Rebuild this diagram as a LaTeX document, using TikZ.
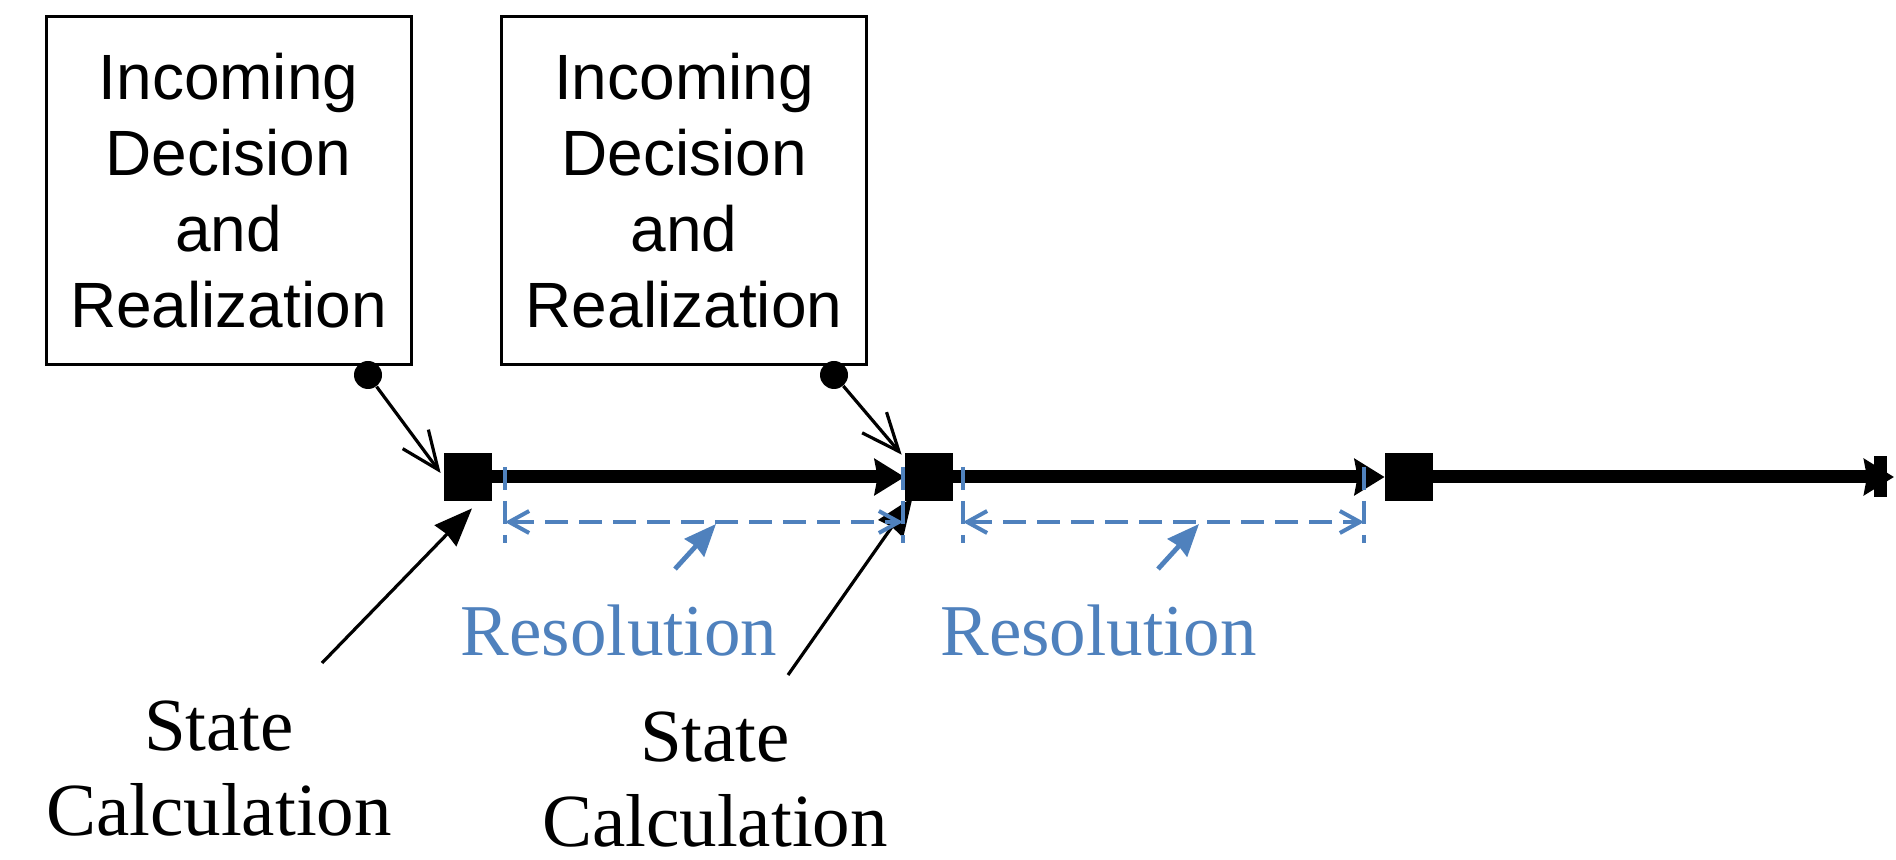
\documentclass[tikz,border=0pt]{standalone}
\usepackage{fontspec}
\setmainfont{Liberation Serif}
\newfontfamily\boxfont{Liberation Sans}
\usetikzlibrary{arrows.meta,calc}
\definecolor{resblue}{HTML}{4F81BD}
\begin{document}
\begin{tikzpicture}[x=0.5pt,y=-0.5pt,
  box/.style={draw,line width=1.5pt,minimum width=182.5pt,minimum height=174pt,inner sep=0pt,align=center,font=\boxfont\fontsize{32}{38}\selectfont},
  sq/.style={fill=black,minimum size=24pt,inner sep=0pt},
  dot/.style={circle,fill=black,minimum size=14pt,inner sep=0pt},
  timeline/.style={line width=6.5pt,-{Stealth[inset=1.5pt,length=15pt,width=18pt]}},
  feed/.style={line width=1.6pt,-{Straight Barb[length=19pt,width=16pt]}},
  calcarrow/.style={line width=1.6pt,-{Stealth[inset=1pt,length=19pt,width=15pt]}},
  dashv/.style={resblue,line width=2pt,dash pattern=on 11.5pt off 5.5pt},
  span/.style={dashv,{Straight Barb[length=10pt,width=11pt]}-{Straight Barb[length=10pt,width=11pt]}},
  respoint/.style={resblue,line width=2.4pt,-{Stealth[inset=1pt,length=16pt,width=13pt]}},
  calclabel/.style={align=center,inner sep=0pt,font=\fontsize{37.5}{42.5}\selectfont},
  reslabel/.style={text=resblue,inner sep=0pt,anchor=base,font=\fontsize{36.5}{42}\selectfont}]
\useasboundingbox (0,0) rectangle (1896,860);

% boxes
\node[box] (b1) at (228.5,191) {Incoming\\Decision\\and\\Realization};
\node[box] (b2) at (684,191) {Incoming\\Decision\\and\\Realization};

% dots
\node[dot] (c1) at (368,375) {};
\node[dot] (c2) at (834,375) {};

% squares
\node[sq] (s1) at (468,477) {};
\node[sq] (s2) at (929,477) {};
\node[sq] (s3) at (1409,477) {};
\node[fill=black,minimum width=6.5pt,minimum height=20.5pt,inner sep=0pt] (endbar) at (1880.5,476.5) {};
\coordinate (tend) at (1894,477);

% timeline
\draw[timeline] (s1.east) -- (s2.west);
\draw[timeline] (s2.east) -- (s3.west);
\draw[timeline] (s3.east) -- (tend);

% incoming arrows
\draw[feed] (c1) -- ($(s1.west)+(-3,-4)$);
\draw[feed] (c2) -- ($(s2.north west)+(-3,2)$);

% labels
\node[calclabel] (l1) at (219,768.5) {State\\Calculation};
\node[calclabel] (l2) at (715,779.5) {State\\Calculation};
\coordinate (l1tail) at (322,663);
\coordinate (l2tail) at (788,675);
\draw[calcarrow] (l1tail) -- ($(s1.south)+(4,7)$);
\draw[calcarrow] (l2tail) -- ($(s2.south west)+(8,-4)$);

% resolution spans
\coordinate (v1t) at (505,467); \coordinate (v1b) at (505,543);
\coordinate (v2t) at (903,467); \coordinate (v2b) at (903,543);
\coordinate (v3t) at (963,467); \coordinate (v3b) at (963,543);
\coordinate (v4t) at (1364,467); \coordinate (v4b) at (1364,543);
\draw[dashv] (v1t) -- (v1b);
\draw[dashv] (v2t) -- (v2b);
\draw[dashv] (v3t) -- (v3b);
\draw[dashv] (v4t) -- (v4b);
\coordinate (h1a) at (505,522); \coordinate (h1b) at (903,522);
\coordinate (h2a) at (963,522); \coordinate (h2b) at (1364,522);
\draw[span] (h1a) -- (h1b);
\draw[span] (h2a) -- (h2b);

\node[reslabel] (r1) at (619,656) {Resolution};
\node[reslabel] (r2) at (1098.5,656) {Resolution};
\coordinate (r1tail) at (675,569);
\coordinate (r2tail) at (1158,569);
\coordinate (r1tip) at (716,524);
\coordinate (r2tip) at (1199,524);
\draw[respoint] (r1tail) -- (r1tip);
\draw[respoint] (r2tail) -- (r2tip);
\end{tikzpicture}
\end{document}
